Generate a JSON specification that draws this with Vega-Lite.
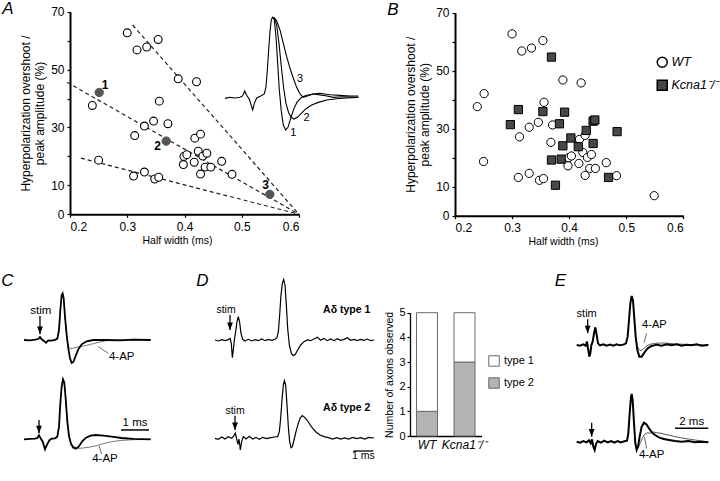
{
"$schema":"https://vega.github.io/schema/vega-lite/v6.json",
"width":720,"height":481,"padding":0,"autosize":{"type":"none"},
"config":{
 "font":"Liberation Sans",
 "view":{"stroke":null},
 "axis":{"domainColor":"black","domainWidth":1.5,"tickColor":"black","tickWidth":1.2,"tickSize":3,"labelColor":"black","labelFontSize":12,"labelFont":"Liberation Sans","titleColor":"black","titleFontSize":12,"titleFont":"Liberation Sans","titleFontWeight":"normal","grid":false,"labelPadding":3,"titlePadding":5},
 "legend":{"labelFont":"Liberation Sans","labelColor":"black"},
 "text":{"font":"Liberation Sans","color":"black"}
},
"datasets":{
 "pts":[
  {"genotype":"WT","hw":0.300,"hyp":62.7,"id":""},
  {"genotype":"WT","hw":0.317,"hyp":56.8,"id":""},
  {"genotype":"WT","hw":0.334,"hyp":57.8,"id":""},
  {"genotype":"WT","hw":0.354,"hyp":60.4,"id":""},
  {"genotype":"WT","hw":0.389,"hyp":46.8,"id":""},
  {"genotype":"WT","hw":0.421,"hyp":45.8,"id":""},
  {"genotype":"WT","hw":0.239,"hyp":37.6,"id":""},
  {"genotype":"WT","hw":0.356,"hyp":39.1,"id":""},
  {"genotype":"WT","hw":0.346,"hyp":32.2,"id":""},
  {"genotype":"WT","hw":0.330,"hyp":30.5,"id":""},
  {"genotype":"WT","hw":0.371,"hyp":31.3,"id":""},
  {"genotype":"WT","hw":0.313,"hyp":27.2,"id":""},
  {"genotype":"WT","hw":0.418,"hyp":26.3,"id":""},
  {"genotype":"WT","hw":0.428,"hyp":27.7,"id":""},
  {"genotype":"WT","hw":0.250,"hyp":18.7,"id":""},
  {"genotype":"WT","hw":0.399,"hyp":20.0,"id":""},
  {"genotype":"WT","hw":0.404,"hyp":20.6,"id":""},
  {"genotype":"WT","hw":0.398,"hyp":17.2,"id":""},
  {"genotype":"WT","hw":0.417,"hyp":18.0,"id":""},
  {"genotype":"WT","hw":0.424,"hyp":21.8,"id":""},
  {"genotype":"WT","hw":0.432,"hyp":20.1,"id":""},
  {"genotype":"WT","hw":0.439,"hyp":21.1,"id":""},
  {"genotype":"WT","hw":0.436,"hyp":16.3,"id":""},
  {"genotype":"WT","hw":0.446,"hyp":16.3,"id":""},
  {"genotype":"WT","hw":0.465,"hyp":18.3,"id":""},
  {"genotype":"WT","hw":0.428,"hyp":13.9,"id":""},
  {"genotype":"WT","hw":0.483,"hyp":13.8,"id":""},
  {"genotype":"WT","hw":0.311,"hyp":13.2,"id":""},
  {"genotype":"WT","hw":0.330,"hyp":14.6,"id":""},
  {"genotype":"WT","hw":0.348,"hyp":12.2,"id":""},
  {"genotype":"WT","hw":0.355,"hyp":12.8,"id":""},
  {"genotype":"WT","hw":0.251,"hyp":42.1,"id":"1"},
  {"genotype":"WT","hw":0.368,"hyp":25.3,"id":"2"},
  {"genotype":"WT","hw":0.549,"hyp":6.9,"id":"3"},
  {"genotype":"Kcna1⁻/⁻","hw":0.369,"hyp":54.7,"id":""},
  {"genotype":"Kcna1⁻/⁻","hw":0.311,"hyp":36.6,"id":""},
  {"genotype":"Kcna1⁻/⁻","hw":0.354,"hyp":35.9,"id":""},
  {"genotype":"Kcna1⁻/⁻","hw":0.392,"hyp":35.7,"id":""},
  {"genotype":"Kcna1⁻/⁻","hw":0.297,"hyp":31.4,"id":""},
  {"genotype":"Kcna1⁻/⁻","hw":0.383,"hyp":31.7,"id":""},
  {"genotype":"Kcna1⁻/⁻","hw":0.442,"hyp":32.6,"id":""},
  {"genotype":"Kcna1⁻/⁻","hw":0.445,"hyp":33.0,"id":""},
  {"genotype":"Kcna1⁻/⁻","hw":0.430,"hyp":29.4,"id":""},
  {"genotype":"Kcna1⁻/⁻","hw":0.484,"hyp":29.0,"id":""},
  {"genotype":"Kcna1⁻/⁻","hw":0.403,"hyp":26.8,"id":""},
  {"genotype":"Kcna1⁻/⁻","hw":0.416,"hyp":23.8,"id":""},
  {"genotype":"Kcna1⁻/⁻","hw":0.389,"hyp":24.1,"id":""},
  {"genotype":"Kcna1⁻/⁻","hw":0.442,"hyp":24.9,"id":""},
  {"genotype":"Kcna1⁻/⁻","hw":0.369,"hyp":19.2,"id":""},
  {"genotype":"Kcna1⁻/⁻","hw":0.386,"hyp":19.5,"id":""},
  {"genotype":"Kcna1⁻/⁻","hw":0.469,"hyp":13.2,"id":""},
  {"genotype":"Kcna1⁻/⁻","hw":0.376,"hyp":10.5,"id":""}
 ],
 "dashA":[
  {"line":"a","hw":0.3095,"hyp":65.4},{"line":"a","hw":0.6,"hyp":0},
  {"line":"b","hw":0.195,"hyp":45.6},{"line":"b","hw":0.6,"hyp":0},
  {"line":"c","hw":0.219,"hyp":19.4},{"line":"c","hw":0.6,"hyp":0}
 ],
 "insetA":[
  {"trace":"1","t":0,"v":-1.3},{"trace":"1","t":0.167,"v":0},{"trace":"1","t":0.333,"v":-0.8},{"trace":"1","t":0.5,"v":0},{"trace":"1","t":0.589,"v":1.7},{"trace":"1","t":0.656,"v":7.9},{"trace":"1","t":0.722,"v":2.5},{"trace":"1","t":0.811,"v":-2.5},{"trace":"1","t":0.889,"v":-11.7},{"trace":"1","t":0.922,"v":-15.8},{"trace":"1","t":0.978,"v":-7.5},{"trace":"1","t":1.056,"v":-0.8},{"trace":"1","t":1.189,"v":1.7},{"trace":"1","t":1.311,"v":4.2},{"trace":"1","t":1.367,"v":13.3},{"trace":"1","t":1.411,"v":34.2},{"trace":"1","t":1.456,"v":59.2},{"trace":"1","t":1.5,"v":82.1},{"trace":"1","t":1.544,"v":97.5},{"trace":"1","t":1.589,"v":100},
  {"trace":"1","t":1.644,"v":96.7},{"trace":"1","t":1.7,"v":75.8},{"trace":"1","t":1.756,"v":42.5},{"trace":"1","t":1.811,"v":9.2},{"trace":"1","t":1.878,"v":-17.9},{"trace":"1","t":1.944,"v":-34.6},{"trace":"1","t":2.022,"v":-40.8},{"trace":"1","t":2.1,"v":-37.5},{"trace":"1","t":2.189,"v":-26.3},{"trace":"1","t":2.3,"v":-13.8},{"trace":"1","t":2.411,"v":-5.4},{"trace":"1","t":2.556,"v":0},{"trace":"1","t":2.722,"v":2.5},{"trace":"1","t":2.944,"v":4.2},{"trace":"1","t":3.278,"v":2.5},{"trace":"1","t":3.611,"v":0},{"trace":"1","t":3.944,"v":0.8},{"trace":"1","t":4.444,"v":0},
  {"trace":"2","t":1.589,"v":100},{"trace":"2","t":1.644,"v":98.8},{"trace":"2","t":1.722,"v":90.4},{"trace":"2","t":1.8,"v":67.5},{"trace":"2","t":1.878,"v":38.3},{"trace":"2","t":1.956,"v":11.3},{"trace":"2","t":2.033,"v":-7.5},{"trace":"2","t":2.122,"v":-19.2},{"trace":"2","t":2.211,"v":-25},{"trace":"2","t":2.3,"v":-27.1},{"trace":"2","t":2.411,"v":-25},{"trace":"2","t":2.544,"v":-20},{"trace":"2","t":2.7,"v":-14.2},{"trace":"2","t":2.889,"v":-9.6},{"trace":"2","t":3.111,"v":-6.3},{"trace":"2","t":3.389,"v":-3.3},{"trace":"2","t":3.722,"v":-1.7},{"trace":"2","t":4.056,"v":-0.8},{"trace":"2","t":4.444,"v":0},
  {"trace":"3","t":1.589,"v":100},{"trace":"3","t":1.644,"v":99.6},{"trace":"3","t":1.722,"v":95.8},{"trace":"3","t":1.833,"v":84.2},{"trace":"3","t":1.944,"v":67.5},{"trace":"3","t":2.056,"v":50.8},{"trace":"3","t":2.167,"v":36.3},{"trace":"3","t":2.278,"v":23.8},{"trace":"3","t":2.389,"v":12.5},{"trace":"3","t":2.5,"v":4.2},{"trace":"3","t":2.611,"v":0},{"trace":"3","t":2.744,"v":1.7},{"trace":"3","t":2.944,"v":4.2},{"trace":"3","t":3.167,"v":5},{"trace":"3","t":3.5,"v":3.3},{"trace":"3","t":3.833,"v":2.5},{"trace":"3","t":4.167,"v":1.7},{"trace":"3","t":4.444,"v":1.7}
 ],
 "ctop":[
  {"s":"ctl","t":0,"v":0},{"s":"ctl","t":0.214,"v":-0.7},{"s":"ctl","t":0.393,"v":0.7},{"s":"ctl","t":0.512,"v":2.1},{"s":"ctl","t":0.571,"v":6.4},{"s":"ctl","t":0.631,"v":1.4},{"s":"ctl","t":0.714,"v":-2.1},{"s":"ctl","t":0.786,"v":-5.7},{"s":"ctl","t":0.869,"v":-0.7},{"s":"ctl","t":0.988,"v":-1.4},{"s":"ctl","t":1.107,"v":0},{"s":"ctl","t":1.19,"v":2.9},{"s":"ctl","t":1.25,"v":21.4},{"s":"ctl","t":1.298,"v":64.3},{"s":"ctl","t":1.345,"v":96.4},{"s":"ctl","t":1.381,"v":100},{"s":"ctl","t":1.417,"v":89.3},{"s":"ctl","t":1.464,"v":50},{"s":"ctl","t":1.524,"v":10.7},{"s":"ctl","t":1.583,"v":-17.9},{"s":"ctl","t":1.643,"v":-39.3},{"s":"ctl","t":1.702,"v":-49.3},{"s":"ctl","t":1.762,"v":-47.1},{"s":"ctl","t":1.845,"v":-34.3},{"s":"ctl","t":1.94,"v":-20},{"s":"ctl","t":2.06,"v":-9.3},{"s":"ctl","t":2.238,"v":-2.9},{"s":"ctl","t":2.476,"v":0},{"s":"ctl","t":2.952,"v":0},{"s":"ctl","t":3.429,"v":-0.7},{"s":"ctl","t":3.905,"v":0.7},{"s":"ctl","t":4.524,"v":0},
  {"s":"4ap","t":1.464,"v":50},{"s":"4ap","t":1.524,"v":10.7},{"s":"4ap","t":1.56,"v":-7.1},{"s":"4ap","t":1.607,"v":-16.4},{"s":"4ap","t":1.667,"v":-18.6},{"s":"4ap","t":1.762,"v":-17.1},{"s":"4ap","t":2.0,"v":-14.3},{"s":"4ap","t":2.238,"v":-11.4},{"s":"4ap","t":2.476,"v":-7.9},{"s":"4ap","t":2.714,"v":-4.3},{"s":"4ap","t":2.952,"v":-1.4},{"s":"4ap","t":3.31,"v":0},{"s":"4ap","t":3.905,"v":0},{"s":"4ap","t":4.524,"v":0}
 ],
 "cbot":[
  {"s":"ctl","t":0,"v":0},{"s":"ctl","t":0.214,"v":0.6},{"s":"ctl","t":0.393,"v":1.1},{"s":"ctl","t":0.476,"v":2.2},{"s":"ctl","t":0.536,"v":6.7},{"s":"ctl","t":0.595,"v":1.7},{"s":"ctl","t":0.667,"v":-3.9},{"s":"ctl","t":0.75,"v":-16.7},{"s":"ctl","t":0.81,"v":-10},{"s":"ctl","t":0.905,"v":-1.7},{"s":"ctl","t":0.988,"v":1.1},{"s":"ctl","t":1.107,"v":1.7},{"s":"ctl","t":1.19,"v":4.4},{"s":"ctl","t":1.25,"v":21.1},{"s":"ctl","t":1.298,"v":60},{"s":"ctl","t":1.345,"v":87.8},{"s":"ctl","t":1.393,"v":100},{"s":"ctl","t":1.44,"v":94.4},{"s":"ctl","t":1.488,"v":68.3},{"s":"ctl","t":1.548,"v":29.4},{"s":"ctl","t":1.607,"v":5.6},{"s":"ctl","t":1.679,"v":-7.8},{"s":"ctl","t":1.762,"v":-13.9},{"s":"ctl","t":1.857,"v":-15.6},{"s":"ctl","t":1.952,"v":-12.2},{"s":"ctl","t":2.071,"v":-3.9},{"s":"ctl","t":2.214,"v":2.8},{"s":"ctl","t":2.381,"v":6.1},{"s":"ctl","t":2.571,"v":7.2},{"s":"ctl","t":2.833,"v":6.1},{"s":"ctl","t":3.131,"v":4.4},{"s":"ctl","t":3.488,"v":2.2},{"s":"ctl","t":3.905,"v":0.6},{"s":"ctl","t":4.524,"v":0},
  {"s":"4ap","t":1.488,"v":68.3},{"s":"4ap","t":1.548,"v":29.4},{"s":"4ap","t":1.607,"v":5.6},{"s":"4ap","t":1.679,"v":-6.7},{"s":"4ap","t":1.786,"v":-12.2},{"s":"4ap","t":1.94,"v":-15},{"s":"4ap","t":2.119,"v":-14.4},{"s":"4ap","t":2.357,"v":-12.8},{"s":"4ap","t":2.595,"v":-10.6},{"s":"4ap","t":2.833,"v":-7.2},{"s":"4ap","t":3.131,"v":-3.9},{"s":"4ap","t":3.488,"v":-1.7},{"s":"4ap","t":3.905,"v":-0.6},{"s":"4ap","t":4.524,"v":0}
 ],
 "dtop":[
  {"t":0,"v":0},{"t":0.167,"v":-1.6},{"t":0.333,"v":0.5},{"t":0.5,"v":-1.1},{"t":0.667,"v":0.5},{"t":0.75,"v":2.7},{"t":0.817,"v":-5.5},{"t":0.867,"v":-29.1},{"t":0.917,"v":-16.5},{"t":0.967,"v":0},{"t":1.033,"v":13.7},{"t":1.1,"v":30.2},{"t":1.167,"v":38.5},{"t":1.233,"v":29.1},{"t":1.3,"v":11},{"t":1.383,"v":1.1},{"t":1.5,"v":-1.6},{"t":1.667,"v":1.1},{"t":1.833,"v":-1.6},{"t":2.0,"v":0.5},{"t":2.167,"v":-1.1},{"t":2.333,"v":1.6},{"t":2.5,"v":-1.1},{"t":2.667,"v":1.1},{"t":2.833,"v":-0.5},{"t":3.0,"v":1.1},{"t":3.1,"v":3.8},{"t":3.167,"v":13.7},{"t":3.233,"v":41.2},{"t":3.3,"v":74.2},{"t":3.367,"v":93.4},{"t":3.433,"v":100},{"t":3.5,"v":90.7},{"t":3.567,"v":57.7},{"t":3.633,"v":19.2},{"t":3.717,"v":-8.2},{"t":3.817,"v":-22},{"t":3.917,"v":-25.8},{"t":4.017,"v":-23.6},{"t":4.133,"v":-16.5},{"t":4.283,"v":-8.2},{"t":4.45,"v":-2.7},{"t":4.617,"v":0},{"t":4.783,"v":-1.1},{"t":4.95,"v":1.6},{"t":5.117,"v":4.4},{"t":5.283,"v":-0.5},{"t":5.45,"v":2.7},{"t":5.617,"v":-1.1},{"t":5.783,"v":1.6},{"t":5.95,"v":-1.1},{"t":6.117,"v":2.2},{"t":6.283,"v":-0.5},{"t":6.45,"v":1.1},{"t":6.617,"v":3.8},{"t":6.783,"v":-0.5},{"t":6.95,"v":1.1},{"t":7.117,"v":-1.1},{"t":7.283,"v":1.1},{"t":7.45,"v":-0.5},{"t":7.617,"v":1.6},{"t":7.783,"v":-1.1},{"t":7.95,"v":0}
 ],
 "dbot":[
  {"t":0,"v":0},{"t":0.167,"v":-1.7},{"t":0.333,"v":2.3},{"t":0.5,"v":-1.2},{"t":0.667,"v":2.9},{"t":0.833,"v":0},{"t":0.95,"v":4.6},{"t":1.017,"v":9.2},{"t":1.083,"v":-1.2},{"t":1.15,"v":-10.4},{"t":1.2,"v":-1.2},{"t":1.267,"v":-20.2},{"t":1.333,"v":-5.8},{"t":1.417,"v":2.9},{"t":1.55,"v":-1.2},{"t":1.717,"v":3.5},{"t":1.883,"v":-1.2},{"t":2.05,"v":1.7},{"t":2.217,"v":-1.7},{"t":2.383,"v":1.7},{"t":2.583,"v":-0.6},{"t":2.783,"v":1.2},{"t":2.983,"v":2.3},{"t":3.133,"v":2.9},{"t":3.217,"v":11.6},{"t":3.283,"v":34.7},{"t":3.35,"v":66.5},{"t":3.417,"v":92.5},{"t":3.467,"v":100},{"t":3.533,"v":92.5},{"t":3.6,"v":57.8},{"t":3.667,"v":20.2},{"t":3.733,"v":-5.8},{"t":3.8,"v":-16.2},{"t":3.867,"v":-14.5},{"t":3.95,"v":-2.9},{"t":4.05,"v":11.6},{"t":4.15,"v":24.3},{"t":4.25,"v":34.7},{"t":4.367,"v":39.3},{"t":4.483,"v":36.4},{"t":4.6,"v":31.8},{"t":4.733,"v":24.9},{"t":4.883,"v":17.3},{"t":5.05,"v":11},{"t":5.25,"v":5.8},{"t":5.45,"v":2.9},{"t":5.667,"v":1.2},{"t":5.883,"v":-1.2},{"t":6.083,"v":1.2},{"t":6.283,"v":-1.2},{"t":6.483,"v":0.6},{"t":6.683,"v":-1.2},{"t":6.883,"v":1.7},{"t":7.083,"v":-0.6},{"t":7.283,"v":1.2},{"t":7.483,"v":-1.2},{"t":7.683,"v":1.7},{"t":7.95,"v":0.6}
 ],
 "etop":[
  {"s":"ctl","t":0,"v":0},{"s":"ctl","t":0.2,"v":-1.4},{"s":"ctl","t":0.4,"v":1.4},{"s":"ctl","t":0.54,"v":-1.4},{"s":"ctl","t":0.62,"v":6.8},{"s":"ctl","t":0.68,"v":-6.8},{"s":"ctl","t":0.76,"v":-23.8},{"s":"ctl","t":0.82,"v":-17},{"s":"ctl","t":0.88,"v":-0.7},{"s":"ctl","t":0.96,"v":6.8},{"s":"ctl","t":1.04,"v":23.8},{"s":"ctl","t":1.12,"v":36.1},{"s":"ctl","t":1.2,"v":20.4},{"s":"ctl","t":1.28,"v":3.4},{"s":"ctl","t":1.4,"v":-0.7},{"s":"ctl","t":1.6,"v":1.4},{"s":"ctl","t":1.8,"v":-1.4},{"s":"ctl","t":2.0,"v":0.7},{"s":"ctl","t":2.2,"v":-1.4},{"s":"ctl","t":2.4,"v":1.4},{"s":"ctl","t":2.6,"v":-0.7},{"s":"ctl","t":2.8,"v":0.7},{"s":"ctl","t":2.96,"v":3.4},{"s":"ctl","t":3.06,"v":17},{"s":"ctl","t":3.14,"v":51},{"s":"ctl","t":3.22,"v":85},{"s":"ctl","t":3.3,"v":100},{"s":"ctl","t":3.38,"v":90.5},{"s":"ctl","t":3.46,"v":54.4},{"s":"ctl","t":3.54,"v":17},{"s":"ctl","t":3.64,"v":-10.2},{"s":"ctl","t":3.76,"v":-23.8},{"s":"ctl","t":3.9,"v":-23.8},{"s":"ctl","t":4.06,"v":-15.6},{"s":"ctl","t":4.26,"v":-6.8},{"s":"ctl","t":4.5,"v":-2},{"s":"ctl","t":4.8,"v":0.7},{"s":"ctl","t":5.1,"v":-1.4},{"s":"ctl","t":5.4,"v":1.4},{"s":"ctl","t":5.7,"v":-0.7},{"s":"ctl","t":6.0,"v":1.4},{"s":"ctl","t":6.3,"v":-1.4},{"s":"ctl","t":6.6,"v":0.7},{"s":"ctl","t":6.9,"v":-0.7},{"s":"ctl","t":7.2,"v":1.4},{"s":"ctl","t":7.5,"v":-1.4},{"s":"ctl","t":7.9,"v":0},
  {"s":"4ap","t":3.54,"v":17},{"s":"4ap","t":3.62,"v":0},{"s":"4ap","t":3.72,"v":-8.8},{"s":"4ap","t":3.86,"v":-11.6},{"s":"4ap","t":4.02,"v":-7.5},{"s":"4ap","t":4.2,"v":-2},{"s":"4ap","t":4.4,"v":1.4},{"s":"4ap","t":4.7,"v":3.4},{"s":"4ap","t":5.1,"v":4.1},{"s":"4ap","t":5.5,"v":3.4},{"s":"4ap","t":5.9,"v":2},{"s":"4ap","t":6.5,"v":1.4},{"s":"4ap","t":7.2,"v":0},{"s":"4ap","t":7.9,"v":0.7}
 ],
 "ebot":[
  {"s":"ctl","t":0,"v":0},{"s":"ctl","t":0.2,"v":-2.1},{"s":"ctl","t":0.4,"v":1.4},{"s":"ctl","t":0.6,"v":-1.4},{"s":"ctl","t":0.74,"v":2.8},{"s":"ctl","t":0.84,"v":-3.5},{"s":"ctl","t":0.92,"v":4.9},{"s":"ctl","t":1.0,"v":-10.5},{"s":"ctl","t":1.08,"v":-17.5},{"s":"ctl","t":1.16,"v":-4.9},{"s":"ctl","t":1.26,"v":1.4},{"s":"ctl","t":1.46,"v":-2.1},{"s":"ctl","t":1.66,"v":2.1},{"s":"ctl","t":1.86,"v":-1.4},{"s":"ctl","t":2.06,"v":1.4},{"s":"ctl","t":2.26,"v":-2.1},{"s":"ctl","t":2.46,"v":1.4},{"s":"ctl","t":2.66,"v":-1.4},{"s":"ctl","t":2.86,"v":0.7},{"s":"ctl","t":3.02,"v":2.1},{"s":"ctl","t":3.1,"v":17.5},{"s":"ctl","t":3.18,"v":59.4},{"s":"ctl","t":3.26,"v":94.4},{"s":"ctl","t":3.3,"v":100},{"s":"ctl","t":3.36,"v":87.4},{"s":"ctl","t":3.44,"v":38.5},{"s":"ctl","t":3.52,"v":-3.5},{"s":"ctl","t":3.6,"v":-17.5},{"s":"ctl","t":3.68,"v":-10.5},{"s":"ctl","t":3.78,"v":10.5},{"s":"ctl","t":3.9,"v":31.5},{"s":"ctl","t":4.04,"v":39.9},{"s":"ctl","t":4.18,"v":36.4},{"s":"ctl","t":4.34,"v":28},{"s":"ctl","t":4.5,"v":20.3},{"s":"ctl","t":4.7,"v":14},{"s":"ctl","t":4.94,"v":9.1},{"s":"ctl","t":5.22,"v":5.6},{"s":"ctl","t":5.54,"v":3.5},{"s":"ctl","t":5.9,"v":1.4},{"s":"ctl","t":6.3,"v":0},{"s":"ctl","t":6.7,"v":1.4},{"s":"ctl","t":7.1,"v":-1.4},{"s":"ctl","t":7.5,"v":0},{"s":"ctl","t":7.9,"v":-1.4},
  {"s":"4ap","t":3.52,"v":-3.5},{"s":"4ap","t":3.6,"v":-14},{"s":"4ap","t":3.7,"v":-11.9},{"s":"4ap","t":3.82,"v":-2.1},{"s":"4ap","t":3.96,"v":9.1},{"s":"4ap","t":4.1,"v":16.1},{"s":"4ap","t":4.26,"v":18.9},{"s":"4ap","t":4.42,"v":17.5},{"s":"4ap","t":4.6,"v":20.3},{"s":"4ap","t":4.8,"v":18.9},{"s":"4ap","t":5.06,"v":17.5},{"s":"4ap","t":5.3,"v":15.4},{"s":"4ap","t":5.6,"v":13.3},{"s":"4ap","t":5.9,"v":10.5},{"s":"4ap","t":6.3,"v":7.7},{"s":"4ap","t":6.7,"v":5.6},{"s":"4ap","t":7.1,"v":3.5},{"s":"4ap","t":7.5,"v":1.4},{"s":"4ap","t":7.9,"v":-0.7}
 ],
 "bars":[
  {"genotype":"WT","type":"type 2","n":1},{"genotype":"WT","type":"type 1","n":4},
  {"genotype":"Kcna1⁻/⁻","type":"type 2","n":3},{"genotype":"Kcna1⁻/⁻","type":"type 1","n":2}
 ]
},
"resolve":{"scale":{"x":"independent","y":"independent","fill":"independent","shape":"independent"}},
"layer":[
  {"data":{"name":"dashA"},"mark":{"type":"line","strokeDash":[4,3],"strokeWidth":1.2,"color":"#222"},
   "encoding":{
    "x":{"field":"hw","type":"quantitative","scale":{"domain":[0.2,0.6],"range":[70,299],"nice":false,"zero":false},"axis":{"orient":"bottom","offset":-266.7,"values":[0.2,0.3,0.4,0.5,0.6],"format":".1f","title":"Half width (ms)","titleFontSize":10.5,"titleX":177,"labelPadding":4,"titlePadding":3,"domainWidth":2}},
    "y":{"field":"hyp","type":"quantitative","scale":{"domain":[0,70],"range":[214.3,11.7],"nice":false,"zero":false},"axis":{"orient":"left","offset":-70,"values":[0,10,20,30,40,50,60,70],"labelExpr":"datum.value == 0 || datum.value % 20 == 10 ? datum.label : ''","title":["Hyperpolarization overshoot /","peak amplitude (%)"],"titleLineHeight":14,"titlePadding":4,"domainWidth":2}},
    "detail":{"field":"line","type":"nominal"}}},
  {"data":{"name":"pts"},"transform":[{"filter":"datum.genotype === 'WT' && datum.id === ''"}],
   "mark":{"type":"point","shape":"circle","filled":true,"fill":"white","stroke":"black","strokeWidth":1.1,"size":62,"opacity":1},
   "encoding":{
    "x":{"field":"hw","type":"quantitative","scale":{"domain":[0.2,0.6],"range":[70,299],"nice":false,"zero":false},"axis":null},
    "y":{"field":"hyp","type":"quantitative","scale":{"domain":[0,70],"range":[214.3,11.7],"nice":false,"zero":false},"axis":null}}},
  {"data":{"name":"pts"},"transform":[{"filter":"datum.id !== ''"}],
   "mark":{"type":"point","shape":"circle","filled":true,"fill":"#555","stroke":"#555","strokeWidth":1,"size":70,"opacity":1},
   "encoding":{
    "x":{"field":"hw","type":"quantitative","scale":{"domain":[0.2,0.6],"range":[70,299],"nice":false,"zero":false},"axis":null},
    "y":{"field":"hyp","type":"quantitative","scale":{"domain":[0,70],"range":[214.3,11.7],"nice":false,"zero":false},"axis":null}}},
  {"data":{"values":[{"hw":0.2611,"hyp":44.7,"lab":"1"},{"hw":0.3531,"hyp":23.7,"lab":"2"},{"hw":0.5418,"hyp":10.0,"lab":"3"}]},
   "mark":{"type":"text","fontWeight":"bold","fontSize":12},
   "encoding":{
    "x":{"field":"hw","type":"quantitative","scale":{"domain":[0.2,0.6],"range":[70,299],"nice":false,"zero":false},"axis":null},
    "y":{"field":"hyp","type":"quantitative","scale":{"domain":[0,70],"range":[214.3,11.7],"nice":false,"zero":false},"axis":null},
    "text":{"field":"lab"}}},
  {"data":{"values":[{"hw":0.0917,"hyp":70.9,"lab":"A"}]},
   "mark":{"type":"text","fontStyle":"italic","fontSize":17},
   "encoding":{
    "x":{"field":"hw","type":"quantitative","scale":{"domain":[0.2,0.6],"range":[70,299],"nice":false,"zero":false},"axis":null},
    "y":{"field":"hyp","type":"quantitative","scale":{"domain":[0,70],"range":[214.3,11.7],"nice":false,"zero":false},"axis":null},
    "text":{"field":"lab"}}},
  {"data":{"name":"insetA"},"mark":{"type":"line","color":"black","strokeWidth":1.1},
   "encoding":{
    "x":{"field":"t","type":"quantitative","scale":{"domain":[0,4.444],"range":[225,358.3],"nice":false,"zero":false},"axis":null},
    "y":{"field":"v","type":"quantitative","scale":{"domain":[0,100],"range":[97.33,17.33],"nice":false,"zero":false},"axis":null},
    "detail":{"field":"trace","type":"nominal"}}},
  {"data":{"values":[{"t":2.5,"v":22.5,"lab":"3"},{"t":2.72,"v":-26.3,"lab":"2"},{"t":2.28,"v":-44,"lab":"1"}]},
   "mark":{"type":"text","fontSize":11},
   "encoding":{
    "x":{"field":"t","type":"quantitative","scale":{"domain":[0,4.444],"range":[225,358.3],"nice":false,"zero":false},"axis":null},
    "y":{"field":"v","type":"quantitative","scale":{"domain":[0,100],"range":[97.33,17.33],"nice":false,"zero":false},"axis":null},
    "text":{"field":"lab"}}},
  {"data":{"name":"pts"},"mark":{"type":"point","filled":true,"stroke":"black","strokeWidth":1,"size":68,"opacity":1},
   "encoding":{
    "x":{"field":"hw","type":"quantitative","scale":{"domain":[0.2,0.6],"range":[455,683.3],"nice":false,"zero":false},"axis":{"orient":"bottom","offset":-265.3,"values":[0.2,0.3,0.4,0.5,0.6],"format":".1f","title":"Half width (ms)","titleFontSize":10.5,"titleX":563,"labelPadding":4,"titlePadding":3,"domainWidth":2}},
    "y":{"field":"hyp","type":"quantitative","scale":{"domain":[0,70],"range":[215.7,12.7],"nice":false,"zero":false},"axis":{"orient":"left","offset":-455,"values":[0,10,20,30,40,50,60,70],"labelExpr":"datum.value == 0 || datum.value % 20 == 10 ? datum.label : ''","title":["Hyperpolarization overshoot /","peak amplitude (%)"],"titleLineHeight":14,"titlePadding":4,"domainWidth":2}},
    "shape":{"field":"genotype","type":"nominal","scale":{"domain":["WT","Kcna1⁻/⁻"],"range":["circle","square"]},"legend":{"orient":"none","legendX":656,"legendY":56,"title":null,"labelFontSize":12.5,"labelFontStyle":"italic","symbolSize":100,"rowPadding":6,"labelOffset":3,"encode":{"symbols":{"update":{"stroke":{"value":"black"},"strokeWidth":{"value":1}}}}}},
    "fill":{"field":"genotype","type":"nominal","scale":{"domain":["WT","Kcna1⁻/⁻"],"range":["white","#474747"]},"legend":{"orient":"none","legendX":656,"legendY":56,"title":null,"labelFontSize":12.5,"labelFontStyle":"italic","symbolSize":100,"rowPadding":6,"labelOffset":3,"encode":{"symbols":{"update":{"stroke":{"value":"black"},"strokeWidth":{"value":1}}}}}}}},
  {"data":{"values":[{"hw":0.0914,"hyp":70.9,"lab":"B"}]},
   "mark":{"type":"text","fontStyle":"italic","fontSize":17},
   "encoding":{
    "x":{"field":"hw","type":"quantitative","scale":{"domain":[0.2,0.6],"range":[455,683.3],"nice":false,"zero":false},"axis":null},
    "y":{"field":"hyp","type":"quantitative","scale":{"domain":[0,70],"range":[215.7,12.7],"nice":false,"zero":false},"axis":null},
    "text":{"field":"lab"}}},
  {"data":{"name":"ctop"},"transform":[{"filter":"datum.s === '4ap'"}],"mark":{"type":"line","color":"#777","strokeWidth":1},
   "encoding":{"x":{"field":"t","type":"quantitative","scale":{"domain":[0,4.524],"range":[24,150.67],"nice":false,"zero":false},"axis":null},"y":{"field":"v","type":"quantitative","scale":{"domain":[0,100],"range":[340,293.33],"nice":false,"zero":false},"axis":null}}},
  {"data":{"name":"ctop"},"transform":[{"filter":"datum.s === 'ctl'"}],"mark":{"type":"line","color":"black","strokeWidth":1.8},
   "encoding":{"x":{"field":"t","type":"quantitative","scale":{"domain":[0,4.524],"range":[24,150.67],"nice":false,"zero":false},"axis":null},"y":{"field":"v","type":"quantitative","scale":{"domain":[0,100],"range":[340,293.33],"nice":false,"zero":false},"axis":null}}},
  {"data":{"values":[{"t":2.655,"v":-14.3,"t2":3.01,"v2":-28.6}]},"mark":{"type":"rule","color":"#444","strokeWidth":0.8},
   "encoding":{"x":{"field":"t","type":"quantitative","scale":{"domain":[0,4.524],"range":[24,150.67],"nice":false,"zero":false},"axis":null},"y":{"field":"v","type":"quantitative","scale":{"domain":[0,100],"range":[340,293.33],"nice":false,"zero":false},"axis":null},"x2":{"field":"t2"},"y2":{"field":"v2"}}},
  {"data":{"values":[{"t":0.571,"v":51.4,"v2":12.9}]},"mark":{"type":"rule","color":"black","strokeWidth":1.3},
   "encoding":{"x":{"field":"t","type":"quantitative","scale":{"domain":[0,4.524],"range":[24,150.67],"nice":false,"zero":false},"axis":null},"y":{"field":"v","type":"quantitative","scale":{"domain":[0,100],"range":[340,293.33],"nice":false,"zero":false},"axis":null},"y2":{"field":"v2"}}},
  {"data":{"values":[{"t":0.571,"v":12.9}]},"mark":{"type":"point","shape":"M-1,-2.6L1,-2.6L0,0Z","filled":true,"color":"black","size":34,"opacity":1},
   "encoding":{"x":{"field":"t","type":"quantitative","scale":{"domain":[0,4.524],"range":[24,150.67],"nice":false,"zero":false},"axis":null},"y":{"field":"v","type":"quantitative","scale":{"domain":[0,100],"range":[340,293.33],"nice":false,"zero":false},"axis":null}}},
  {"data":{"values":[{"t":0.6,"v":62.1,"lab":"stim"},{"t":3.49,"v":-35.7,"lab":"4-AP"}]},"mark":{"type":"text","fontSize":11.5},
   "encoding":{"x":{"field":"t","type":"quantitative","scale":{"domain":[0,4.524],"range":[24,150.67],"nice":false,"zero":false},"axis":null},"y":{"field":"v","type":"quantitative","scale":{"domain":[0,100],"range":[340,293.33],"nice":false,"zero":false},"axis":null},"text":{"field":"lab"}}},
  {"data":{"values":[{"t":-0.589,"v":126.4,"lab":"C"}]},"mark":{"type":"text","fontStyle":"italic","fontSize":17},
   "encoding":{"x":{"field":"t","type":"quantitative","scale":{"domain":[0,4.524],"range":[24,150.67],"nice":false,"zero":false},"axis":null},"y":{"field":"v","type":"quantitative","scale":{"domain":[0,100],"range":[340,293.33],"nice":false,"zero":false},"axis":null},"text":{"field":"lab"}}},
  {"data":{"name":"cbot"},"transform":[{"filter":"datum.s === '4ap'"}],"mark":{"type":"line","color":"#777","strokeWidth":1},
   "encoding":{"x":{"field":"t","type":"quantitative","scale":{"domain":[0,4.524],"range":[24,150.67],"nice":false,"zero":false},"axis":null},"y":{"field":"v","type":"quantitative","scale":{"domain":[0,100],"range":[439.33,379.33],"nice":false,"zero":false},"axis":null}}},
  {"data":{"name":"cbot"},"transform":[{"filter":"datum.s === 'ctl'"}],"mark":{"type":"line","color":"black","strokeWidth":1.8},
   "encoding":{"x":{"field":"t","type":"quantitative","scale":{"domain":[0,4.524],"range":[24,150.67],"nice":false,"zero":false},"axis":null},"y":{"field":"v","type":"quantitative","scale":{"domain":[0,100],"range":[439.33,379.33],"nice":false,"zero":false},"axis":null}}},
  {"data":{"values":[{"t":2.679,"v":-11.1,"t2":2.775,"v2":-24.4}]},"mark":{"type":"rule","color":"#444","strokeWidth":0.8},
   "encoding":{"x":{"field":"t","type":"quantitative","scale":{"domain":[0,4.524],"range":[24,150.67],"nice":false,"zero":false},"axis":null},"y":{"field":"v","type":"quantitative","scale":{"domain":[0,100],"range":[439.33,379.33],"nice":false,"zero":false},"axis":null},"x2":{"field":"t2"},"y2":{"field":"v2"}}},
  {"data":{"values":[{"t":0.536,"v":32.2,"v2":10}]},"mark":{"type":"rule","color":"black","strokeWidth":1.3},
   "encoding":{"x":{"field":"t","type":"quantitative","scale":{"domain":[0,4.524],"range":[24,150.67],"nice":false,"zero":false},"axis":null},"y":{"field":"v","type":"quantitative","scale":{"domain":[0,100],"range":[439.33,379.33],"nice":false,"zero":false},"axis":null},"y2":{"field":"v2"}}},
  {"data":{"values":[{"t":0.536,"v":10}]},"mark":{"type":"point","shape":"M-1,-2.6L1,-2.6L0,0Z","filled":true,"color":"black","size":34,"opacity":1},
   "encoding":{"x":{"field":"t","type":"quantitative","scale":{"domain":[0,4.524],"range":[24,150.67],"nice":false,"zero":false},"axis":null},"y":{"field":"v","type":"quantitative","scale":{"domain":[0,100],"range":[439.33,379.33],"nice":false,"zero":false},"axis":null}}},
  {"data":{"values":[{"t":3.464,"t2":4.464,"v":15.6}]},"mark":{"type":"rule","color":"black","strokeWidth":1.5},
   "encoding":{"x":{"field":"t","type":"quantitative","scale":{"domain":[0,4.524],"range":[24,150.67],"nice":false,"zero":false},"axis":null},"y":{"field":"v","type":"quantitative","scale":{"domain":[0,100],"range":[439.33,379.33],"nice":false,"zero":false},"axis":null},"x2":{"field":"t2"}}},
  {"data":{"values":[{"t":2.893,"v":-33.3,"lab":"4-AP"},{"t":3.964,"v":27.2,"lab":"1 ms"}]},"mark":{"type":"text","fontSize":11.5},
   "encoding":{"x":{"field":"t","type":"quantitative","scale":{"domain":[0,4.524],"range":[24,150.67],"nice":false,"zero":false},"axis":null},"y":{"field":"v","type":"quantitative","scale":{"domain":[0,100],"range":[439.33,379.33],"nice":false,"zero":false},"axis":null},"text":{"field":"lab"}}},
  {"data":{"name":"dtop"},"mark":{"type":"line","color":"black","strokeWidth":1.2},
   "encoding":{"x":{"field":"t","type":"quantitative","scale":{"domain":[0,7.95],"range":[215,374],"nice":false,"zero":false},"axis":null},"y":{"field":"v","type":"quantitative","scale":{"domain":[0,100],"range":[340,279.33],"nice":false,"zero":false},"axis":null}}},
  {"data":{"values":[{"t":0.75,"v":41.2,"v2":16.5}]},"mark":{"type":"rule","color":"black","strokeWidth":1.3},
   "encoding":{"x":{"field":"t","type":"quantitative","scale":{"domain":[0,7.95],"range":[215,374],"nice":false,"zero":false},"axis":null},"y":{"field":"v","type":"quantitative","scale":{"domain":[0,100],"range":[340,279.33],"nice":false,"zero":false},"axis":null},"y2":{"field":"v2"}}},
  {"data":{"values":[{"t":0.75,"v":16.5}]},"mark":{"type":"point","shape":"M-1,-2.6L1,-2.6L0,0Z","filled":true,"color":"black","size":34,"opacity":1},
   "encoding":{"x":{"field":"t","type":"quantitative","scale":{"domain":[0,7.95],"range":[215,374],"nice":false,"zero":false},"axis":null},"y":{"field":"v","type":"quantitative","scale":{"domain":[0,100],"range":[340,279.33],"nice":false,"zero":false},"axis":null}}},
  {"data":{"values":[{"t":0.55,"v":49.5,"lab":"stim"}]},"mark":{"type":"text","fontSize":10.5},
   "encoding":{"x":{"field":"t","type":"quantitative","scale":{"domain":[0,7.95],"range":[215,374],"nice":false,"zero":false},"axis":null},"y":{"field":"v","type":"quantitative","scale":{"domain":[0,100],"range":[340,279.33],"nice":false,"zero":false},"axis":null},"text":{"field":"lab"}}},
  {"data":{"values":[{"t":6.583,"v":49.5,"lab":"Aδ type 1"}]},"mark":{"type":"text","fontSize":10.5,"fontWeight":"bold"},
   "encoding":{"x":{"field":"t","type":"quantitative","scale":{"domain":[0,7.95],"range":[215,374],"nice":false,"zero":false},"axis":null},"y":{"field":"v","type":"quantitative","scale":{"domain":[0,100],"range":[340,279.33],"nice":false,"zero":false},"axis":null},"text":{"field":"lab"}}},
  {"data":{"values":[{"t":-0.625,"v":97.3,"lab":"D"}]},"mark":{"type":"text","fontStyle":"italic","fontSize":17},
   "encoding":{"x":{"field":"t","type":"quantitative","scale":{"domain":[0,7.95],"range":[215,374],"nice":false,"zero":false},"axis":null},"y":{"field":"v","type":"quantitative","scale":{"domain":[0,100],"range":[340,279.33],"nice":false,"zero":false},"axis":null},"text":{"field":"lab"}}},
  {"data":{"name":"dbot"},"mark":{"type":"line","color":"black","strokeWidth":1.2},
   "encoding":{"x":{"field":"t","type":"quantitative","scale":{"domain":[0,7.95],"range":[215,374],"nice":false,"zero":false},"axis":null},"y":{"field":"v","type":"quantitative","scale":{"domain":[0,100],"range":[438.33,380.67],"nice":false,"zero":false},"axis":null}}},
  {"data":{"values":[{"t":1.0,"v":39.3,"v2":14.5}]},"mark":{"type":"rule","color":"black","strokeWidth":1.3},
   "encoding":{"x":{"field":"t","type":"quantitative","scale":{"domain":[0,7.95],"range":[215,374],"nice":false,"zero":false},"axis":null},"y":{"field":"v","type":"quantitative","scale":{"domain":[0,100],"range":[438.33,380.67],"nice":false,"zero":false},"axis":null},"y2":{"field":"v2"}}},
  {"data":{"values":[{"t":1.0,"v":14.5}]},"mark":{"type":"point","shape":"M-1,-2.6L1,-2.6L0,0Z","filled":true,"color":"black","size":34,"opacity":1},
   "encoding":{"x":{"field":"t","type":"quantitative","scale":{"domain":[0,7.95],"range":[215,374],"nice":false,"zero":false},"axis":null},"y":{"field":"v","type":"quantitative","scale":{"domain":[0,100],"range":[438.33,380.67],"nice":false,"zero":false},"axis":null}}},
  {"data":{"values":[{"t":6.917,"t2":7.917,"v":-22}]},"mark":{"type":"rule","color":"black","strokeWidth":1.3},
   "encoding":{"x":{"field":"t","type":"quantitative","scale":{"domain":[0,7.95],"range":[215,374],"nice":false,"zero":false},"axis":null},"y":{"field":"v","type":"quantitative","scale":{"domain":[0,100],"range":[438.33,380.67],"nice":false,"zero":false},"axis":null},"x2":{"field":"t2"}}},
  {"data":{"values":[{"t":1.0,"v":47.4,"lab":"stim"},{"t":7.417,"v":-30,"lab":"1 ms"}]},"mark":{"type":"text","fontSize":10.5},
   "encoding":{"x":{"field":"t","type":"quantitative","scale":{"domain":[0,7.95],"range":[215,374],"nice":false,"zero":false},"axis":null},"y":{"field":"v","type":"quantitative","scale":{"domain":[0,100],"range":[438.33,380.67],"nice":false,"zero":false},"axis":null},"text":{"field":"lab"}}},
  {"data":{"values":[{"t":6.583,"v":52,"lab":"Aδ type 2"}]},"mark":{"type":"text","fontSize":10.5,"fontWeight":"bold"},
   "encoding":{"x":{"field":"t","type":"quantitative","scale":{"domain":[0,7.95],"range":[215,374],"nice":false,"zero":false},"axis":null},"y":{"field":"v","type":"quantitative","scale":{"domain":[0,100],"range":[438.33,380.67],"nice":false,"zero":false},"axis":null},"text":{"field":"lab"}}},
  {"data":{"name":"bars"},"mark":{"type":"bar","stroke":"#6a6a6a","strokeWidth":1},
   "encoding":{
    "x":{"field":"genotype","type":"nominal","sort":["WT","Kcna1⁻/⁻"],"scale":{"domain":["WT","Kcna1⁻/⁻"],"range":[410,481.5],"paddingInner":0.44,"paddingOuter":0.173},"axis":{"orient":"bottom","offset":-45,"title":null,"ticks":false,"labelAngle":0,"labelFontStyle":"italic","labelFontSize":12,"labelPadding":3,"domainWidth":1.3}},
    "y":{"field":"n","type":"quantitative","stack":"zero","scale":{"domain":[0,5],"range":[436,312.7],"nice":false},"axis":{"orient":"left","offset":-410,"values":[0,1,2,3,4,5],"title":"Number of axons observed","titleFontSize":10.5,"labelFontSize":11,"labelPadding":2,"titlePadding":4,"domainWidth":1.3}},
    "fill":{"field":"type","type":"nominal","scale":{"domain":["type 1","type 2"],"range":["white","#b3b3b3"]},"legend":{"orient":"none","legendX":488,"legendY":355,"title":null,"labelFontSize":11,"symbolType":"square","symbolSize":110,"symbolStrokeColor":"#6a6a6a","symbolStrokeWidth":1,"rowPadding":6,"labelOffset":4}},
    "order":{"field":"type","type":"nominal","sort":"descending"}
   }},
  {"data":{"name":"etop"},"transform":[{"filter":"datum.s === '4ap'"}],"mark":{"type":"line","color":"#444","strokeWidth":0.9},
   "encoding":{"x":{"field":"t","type":"quantitative","scale":{"domain":[0,7.9],"range":[576.67,708.33],"nice":false,"zero":false},"axis":null},"y":{"field":"v","type":"quantitative","scale":{"domain":[0,100],"range":[345,296],"nice":false,"zero":false},"axis":null}}},
  {"data":{"name":"etop"},"transform":[{"filter":"datum.s === 'ctl'"}],"mark":{"type":"line","color":"black","strokeWidth":2},
   "encoding":{"x":{"field":"t","type":"quantitative","scale":{"domain":[0,7.9],"range":[576.67,708.33],"nice":false,"zero":false},"axis":null},"y":{"field":"v","type":"quantitative","scale":{"domain":[0,100],"range":[345,296],"nice":false,"zero":false},"axis":null}}},
  {"data":{"values":[{"t":4.2,"v":23.8,"t2":4.04,"v2":4.8}]},"mark":{"type":"rule","color":"#444","strokeWidth":0.8},
   "encoding":{"x":{"field":"t","type":"quantitative","scale":{"domain":[0,7.9],"range":[576.67,708.33],"nice":false,"zero":false},"axis":null},"y":{"field":"v","type":"quantitative","scale":{"domain":[0,100],"range":[345,296],"nice":false,"zero":false},"axis":null},"x2":{"field":"t2"},"y2":{"field":"v2"}}},
  {"data":{"values":[{"t":0.66,"v":52.4,"v2":23.8}]},"mark":{"type":"rule","color":"black","strokeWidth":1.3},
   "encoding":{"x":{"field":"t","type":"quantitative","scale":{"domain":[0,7.9],"range":[576.67,708.33],"nice":false,"zero":false},"axis":null},"y":{"field":"v","type":"quantitative","scale":{"domain":[0,100],"range":[345,296],"nice":false,"zero":false},"axis":null},"y2":{"field":"v2"}}},
  {"data":{"values":[{"t":0.66,"v":23.8}]},"mark":{"type":"point","shape":"M-1,-2.6L1,-2.6L0,0Z","filled":true,"color":"black","size":34,"opacity":1},
   "encoding":{"x":{"field":"t","type":"quantitative","scale":{"domain":[0,7.9],"range":[576.67,708.33],"nice":false,"zero":false},"axis":null},"y":{"field":"v","type":"quantitative","scale":{"domain":[0,100],"range":[345,296],"nice":false,"zero":false},"axis":null}}},
  {"data":{"values":[{"t":0.6,"v":62.6,"lab":"stim"},{"t":4.66,"v":40.8,"lab":"4-AP"}]},"mark":{"type":"text","fontSize":11},
   "encoding":{"x":{"field":"t","type":"quantitative","scale":{"domain":[0,7.9],"range":[576.67,708.33],"nice":false,"zero":false},"axis":null},"y":{"field":"v","type":"quantitative","scale":{"domain":[0,100],"range":[345,296],"nice":false,"zero":false},"axis":null},"text":{"field":"lab"}}},
  {"data":{"values":[{"t":-0.97,"v":130.6,"lab":"E"}]},"mark":{"type":"text","fontStyle":"italic","fontSize":17},
   "encoding":{"x":{"field":"t","type":"quantitative","scale":{"domain":[0,7.9],"range":[576.67,708.33],"nice":false,"zero":false},"axis":null},"y":{"field":"v","type":"quantitative","scale":{"domain":[0,100],"range":[345,296],"nice":false,"zero":false},"axis":null},"text":{"field":"lab"}}},
  {"data":{"name":"ebot"},"transform":[{"filter":"datum.s === '4ap'"}],"mark":{"type":"line","color":"#444","strokeWidth":0.9},
   "encoding":{"x":{"field":"t","type":"quantitative","scale":{"domain":[0,7.9],"range":[576.67,708.33],"nice":false,"zero":false},"axis":null},"y":{"field":"v","type":"quantitative","scale":{"domain":[0,100],"range":[441.67,394],"nice":false,"zero":false},"axis":null}}},
  {"data":{"name":"ebot"},"transform":[{"filter":"datum.s === 'ctl'"}],"mark":{"type":"line","color":"black","strokeWidth":2},
   "encoding":{"x":{"field":"t","type":"quantitative","scale":{"domain":[0,7.9],"range":[576.67,708.33],"nice":false,"zero":false},"axis":null},"y":{"field":"v","type":"quantitative","scale":{"domain":[0,100],"range":[441.67,394],"nice":false,"zero":false},"axis":null}}},
  {"data":{"values":[{"t":4.06,"v":10.5,"t2":4.2,"v2":-14}]},"mark":{"type":"rule","color":"#444","strokeWidth":0.8},
   "encoding":{"x":{"field":"t","type":"quantitative","scale":{"domain":[0,7.9],"range":[576.67,708.33],"nice":false,"zero":false},"axis":null},"y":{"field":"v","type":"quantitative","scale":{"domain":[0,100],"range":[441.67,394],"nice":false,"zero":false},"axis":null},"x2":{"field":"t2"},"y2":{"field":"v2"}}},
  {"data":{"values":[{"t":0.9,"v":39.9,"v2":10.5}]},"mark":{"type":"rule","color":"black","strokeWidth":1.3},
   "encoding":{"x":{"field":"t","type":"quantitative","scale":{"domain":[0,7.9],"range":[576.67,708.33],"nice":false,"zero":false},"axis":null},"y":{"field":"v","type":"quantitative","scale":{"domain":[0,100],"range":[441.67,394],"nice":false,"zero":false},"axis":null},"y2":{"field":"v2"}}},
  {"data":{"values":[{"t":0.9,"v":10.5}]},"mark":{"type":"point","shape":"M-1,-2.6L1,-2.6L0,0Z","filled":true,"color":"black","size":34,"opacity":1},
   "encoding":{"x":{"field":"t","type":"quantitative","scale":{"domain":[0,7.9],"range":[576.67,708.33],"nice":false,"zero":false},"axis":null},"y":{"field":"v","type":"quantitative","scale":{"domain":[0,100],"range":[441.67,394],"nice":false,"zero":false},"axis":null}}},
  {"data":{"values":[{"t":5.9,"t2":7.9,"v":28}]},"mark":{"type":"rule","color":"black","strokeWidth":1.5},
   "encoding":{"x":{"field":"t","type":"quantitative","scale":{"domain":[0,7.9],"range":[576.67,708.33],"nice":false,"zero":false},"axis":null},"y":{"field":"v","type":"quantitative","scale":{"domain":[0,100],"range":[441.67,394],"nice":false,"zero":false},"axis":null},"x2":{"field":"t2"}}},
  {"data":{"values":[{"t":4.5,"v":-28,"lab":"4-AP"},{"t":6.9,"v":42,"lab":"2 ms"}]},"mark":{"type":"text","fontSize":11.5},
   "encoding":{"x":{"field":"t","type":"quantitative","scale":{"domain":[0,7.9],"range":[576.67,708.33],"nice":false,"zero":false},"axis":null},"y":{"field":"v","type":"quantitative","scale":{"domain":[0,100],"range":[441.67,394],"nice":false,"zero":false},"axis":null},"text":{"field":"lab"}}}
]
}
